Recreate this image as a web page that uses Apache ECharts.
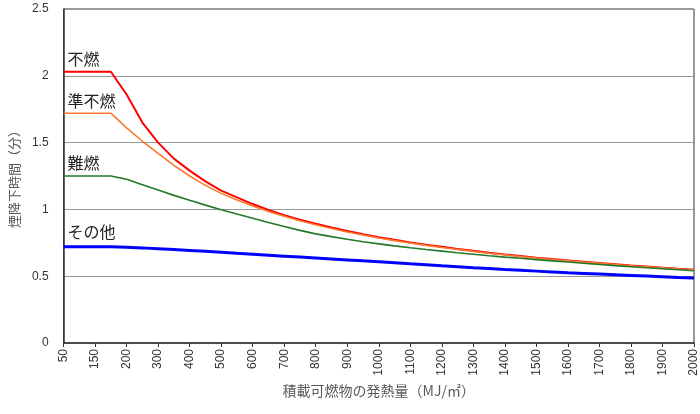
<!DOCTYPE html>
<html>
<head>
<meta charset="utf-8">
<script src="https://cdn.jsdelivr.net/npm/echarts@6/dist/echarts.min.js"></script>
<style>
  html, body { margin: 0; padding: 0; background: #fff; }
  #chart { width: 700px; height: 414px; }
</style>
</head>
<body>
<div id="chart"></div>
<script>
// heat load of combustibles (MJ/m2); every second category carries a tick label
var categories = ['50', '100', '150', '175', '200', '250', '300', '350', '400', '450',
  '500', '550', '600', '650', '700', '750', '800', '850', '900', '950',
  '1000', '1050', '1100', '1150', '1200', '1250', '1300', '1350', '1400', '1450',
  '1500', '1550', '1600', '1650', '1700', '1750', '1800', '1850', '1900', '1950', '2000']

var funen = [2.03, 2.03, 2.03, 2.03, 1.86, 1.65, 1.50, 1.38, 1.29, 1.21,
  1.14, 1.09, 1.04, 0.996, 0.957, 0.923, 0.892, 0.864, 0.838, 0.814,
  0.792, 0.772, 0.753, 0.736, 0.72, 0.704, 0.69, 0.676, 0.663, 0.651,
  0.639, 0.628, 0.618, 0.608, 0.598, 0.589, 0.58, 0.572, 0.564, 0.556, 0.549]

var junFunen = [1.72, 1.72, 1.72, 1.72, 1.61, 1.51, 1.42, 1.33, 1.25, 1.18,
  1.12, 1.07, 1.025, 0.985, 0.948, 0.915, 0.885, 0.857, 0.831, 0.808,
  0.786, 0.766, 0.748, 0.731, 0.715, 0.70, 0.686, 0.672, 0.66, 0.648,
  0.636, 0.625, 0.615, 0.605, 0.596, 0.587, 0.578, 0.57, 0.562, 0.554, 0.547]

var nanen = [1.25, 1.25, 1.25, 1.25, 1.225, 1.185, 1.145, 1.105, 1.068, 1.032,
  0.998, 0.965, 0.933, 0.902, 0.872, 0.843, 0.817, 0.796, 0.776, 0.758,
  0.742, 0.727, 0.713, 0.70, 0.688, 0.675, 0.664, 0.653, 0.643, 0.634,
  0.624, 0.615, 0.606, 0.597, 0.588, 0.579, 0.571, 0.563, 0.556, 0.548, 0.541]

var sonota = [0.72, 0.72, 0.72, 0.72, 0.717, 0.712, 0.706, 0.70, 0.693, 0.686,
  0.679, 0.671, 0.664, 0.657, 0.65, 0.643, 0.636, 0.629, 0.622, 0.615,
  0.609, 0.601, 0.593, 0.586, 0.578, 0.571, 0.563, 0.557, 0.55, 0.544,
  0.538, 0.532, 0.526, 0.521, 0.516, 0.511, 0.506, 0.501, 0.496, 0.491, 0.487]

var seriesNames = ['不燃', '準不燃', '難燃', 'その他']
var seriesColors = ['#ff0000', '#f77a2e', '#23782a', '#0000ff']
var seriesWidths = [2, 1.6, 1.6, 3]
var seriesData = [funen, junFunen, nanen, sonota]
var labelOffsets = [-13, -12, -13, -15]

var numFont = '"Liberation Sans", Arial, sans-serif'
var cjkFont = '"Noto Sans CJK JP", sans-serif'

var chart = echarts.init(document.getElementById('chart'), null, { renderer: 'canvas' })

var series = []
seriesNames.forEach(function (name, i) {
  series.push({
    name: name,
    type: 'line',
    data: seriesData[i],
    symbol: 'none',
    smooth: false,
    animation: false,
    lineStyle: { color: seriesColors[i], width: seriesWidths[i] },
    markPoint: {
      silent: true,
      symbol: 'circle',
      symbolSize: 0,
      data: [{
        coord: [0, seriesData[i][0]],
        label: {
          show: true,
          formatter: name,
          position: 'right',
          distance: 4,
          offset: [0, labelOffsets[i]],
          color: '#222',
          fontSize: 16,
          fontFamily: cjkFont
        }
      }]
    }
  })
})

var showEven = function (index) { return index % 2 === 0 }

chart.setOption({
  backgroundColor: '#fff',
  animation: false,
  grid: {
    left: 62,
    right: 6,
    top: 9,
    bottom: 71,
    show: true,
    borderColor: '#333',
    borderWidth: 1
  },
  xAxis: {
    type: 'category',
    data: categories,
    boundaryGap: false,
    name: '積載可燃物の発熱量（MJ/㎡）',
    nameLocation: 'middle',
    nameGap: 40,
    nameTextStyle: { color: '#595959', fontSize: 14, fontFamily: cjkFont },
    axisLine: { lineStyle: { color: '#333', width: 1.5 } },
    axisTick: { show: true, interval: showEven, length: 4, lineStyle: { color: '#333' } },
    axisLabel: {
      interval: showEven,
      rotate: 90,
      margin: 6,
      color: '#333',
      fontSize: 12,
      fontFamily: numFont
    },
    splitLine: { show: false }
  },
  yAxis: {
    type: 'value',
    min: 0,
    max: 2.5,
    interval: 0.5,
    name: '煙降下時間（分）',
    nameLocation: 'middle',
    nameGap: 42,
    nameTextStyle: { color: '#595959', fontSize: 13, fontFamily: cjkFont },
    axisLine: { show: true, lineStyle: { color: '#333', width: 1.5 } },
    axisTick: { show: false },
    axisLabel: { margin: 15, color: '#333', fontSize: 12, fontFamily: numFont },
    splitLine: { show: true, lineStyle: { color: '#999', width: 1 } }
  },
  series: series
})
</script>
</body>
</html>
